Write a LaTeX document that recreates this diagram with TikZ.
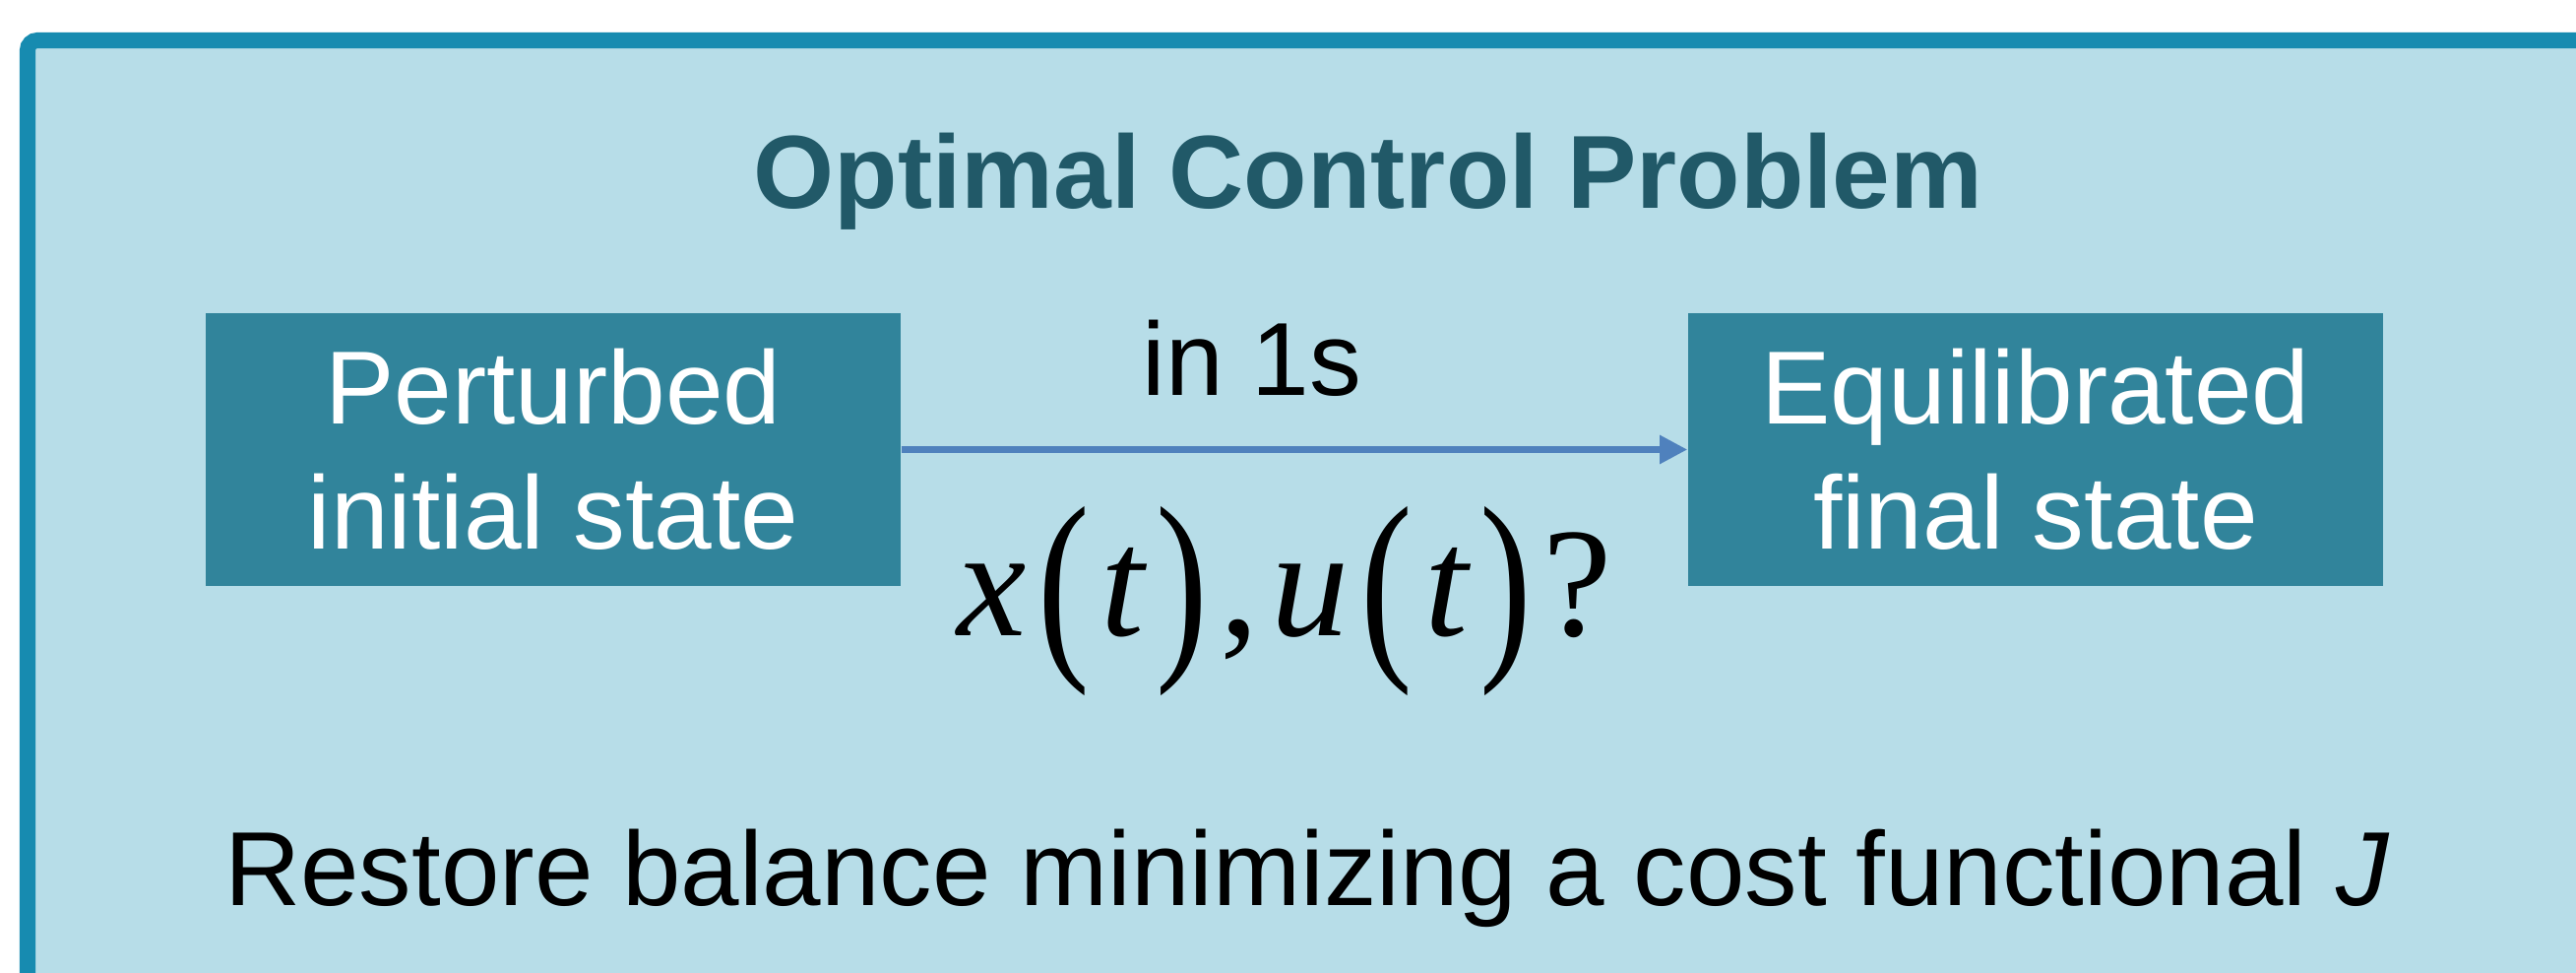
\documentclass[tikz,border=0pt]{standalone}
\usepackage{fontspec}
\setmainfont{Liberation Sans}
\newfontfamily\timesfont{Liberation Serif}
\usepackage{graphicx}
\usetikzlibrary{arrows.meta}

\definecolor{framecol}{RGB}{23,139,176}
\definecolor{panelcol}{RGB}{183,221,232}
\definecolor{boxcol}{RGB}{49,132,155}
\definecolor{titlecol}{RGB}{33,89,104}
\definecolor{arrowcol}{RGB}{79,129,189}

% italic serif letters and stretched brackets for x(t), u(t)
\newcommand{\mvar}[1]{{\timesfont\itshape #1}}
\newcommand{\tallparen}[1]{\raisebox{-1.6mm}{\scalebox{1}[1.34]{\timesfont #1}}}

\begin{document}
\begin{tikzpicture}[x=0.01cm, y=-0.01cm,
		statebox/.style={fill=boxcol, text=white, minimum width=7.06cm, minimum height=2.77cm,
			inner sep=0pt, align=center, font=\fontsize{30}{36.1}\selectfont},
		bigtext/.style={font=\fontsize{30}{36}\selectfont, anchor=base}]
		\clip (0,0) rectangle (2617,988);
		
		% panel with its thick frame, running off the right and bottom
		\draw[line width=1.6mm, draw=framecol, fill=panelcol, rounded corners=1mm] (28,41) rectangle (2680,1050);
		
		\node[bigtext, font=\bfseries\fontsize{30}{36}\selectfont, text=titlecol] (title) at (1390,212) {Optimal Control Problem};
		
		% the two states
		\node[statebox] (init) at (562,456.5) {Perturbed\\initial state};
		\node[statebox] (final) at (2068,456.5) {Equilibrated\\final state};
		\draw[arrowcol, line width=0.6mm, -{Triangle[length=2.8mm, width=2.8mm]}] (init) -- (final);
		
		\node[bigtext] (dur) at (1272,401) {in 1s};
		\node[anchor=base, inner sep=0pt, font=\fontsize{45}{54}\selectfont] (traj) at (1305,645)
		{\mvar{x}\hspace{1.2mm}\tallparen{(}\hspace{1.2mm}\mvar{t}\hspace{1.2mm}\tallparen{)}\hspace{1.2mm}{\timesfont ,}\hspace{1.2mm}\mvar{u}\hspace{1.2mm}\tallparen{(}\hspace{1.2mm}\mvar{t}\hspace{1.2mm}\tallparen{)}\hspace{1.2mm}{\timesfont ?}};
		
		\node[bigtext, font=\fontsize{30.4}{36}\selectfont] (goal) at (1328,919) {Restore balance minimizing a cost functional \textit{J}};
	\end{tikzpicture}
\end{document}
